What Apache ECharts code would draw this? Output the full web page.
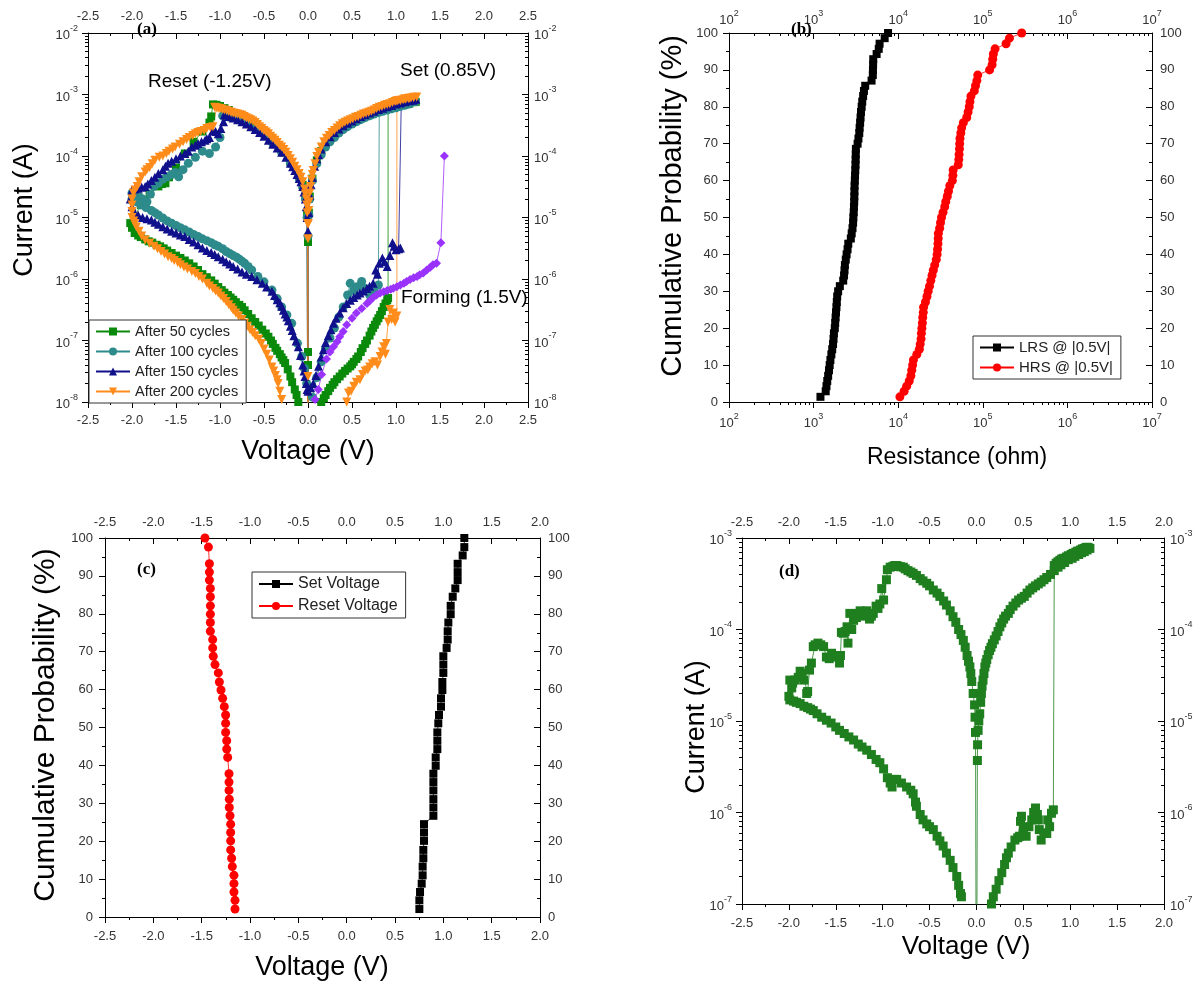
<!DOCTYPE html>
<html><head><meta charset="utf-8">
<script src="https://cdn.jsdelivr.net/npm/echarts@6/dist/echarts.min.js"></script>
<style>html,body{margin:0;padding:0;background:#fff}#c{width:1200px;height:984px}</style>
</head><body><div id="c"></div>
<script>
// ---------- Panel (a): I-V curves, [Voltage (V), Current (A)] ----------
const cyc50 = [
[0.0,6.5e-8],[0.0,4.0e-8],[0.0,1e-10],
[0.15,1.0e-8],[0.18,1.15e-8],[0.2,1.3e-8],[0.23,1.5e-8],[0.25,1.7e-8],[0.28,1.9e-8],[0.3,2.1e-8],[0.33,2.35e-8],[0.36,2.6e-8],[0.39,2.9e-8],[0.42,3.2e-8],[0.45,3.5e-8],[0.48,3.8e-8],[0.5,4.1e-8],[0.52,4.5e-8],[0.55,5.0e-8],[0.57,5.5e-8],[0.6,6.5e-8],[0.62,7.5e-8],[0.65,8.8e-8],[0.67,1.0e-7],[0.7,1.2e-7],[0.72,1.4e-7],[0.74,1.6e-7],[0.76,1.8e-7],[0.78,2.05e-7],[0.8,2.3e-7],[0.82,2.6e-7],[0.84,3.0e-7],[0.86,3.5e-7],[0.88,4.0e-7],[0.9,4.5e-7],[0.91,4.9e-7],
[0.91,6.2e-4],[0.95,6.4e-4],[1.0,6.6e-4],[1.05,6.9e-4],[1.1,7.1e-4],[1.15,7.3e-4],[1.2,7.5e-4],[1.225,7.6e-4],
[1.15,7.1e-4],[1.1,6.9e-4],[1.0,6.3e-4],[0.9,5.8e-4],[0.8,5.3e-4],[0.7,4.7e-4],[0.6,4.1e-4],[0.5,3.5e-4],[0.4,2.9e-4],[0.3,2.2e-4],[0.2,1.6e-4],[0.15,1.2e-4],[0.1,8.5e-5],[0.05,4.3e-5],[0.02,2.2e-5],[0.01,1.2e-5],[0.0,4.0e-6],[0.0,1e-10],
[-0.01,1.1e-5],[-0.03,2.2e-5],[-0.06,3.4e-5],[-0.1,4.6e-5],[-0.2,8.0e-5],[-0.3,1.25e-4],[-0.4,1.75e-4],[-0.5,2.4e-4],[-0.6,3.1e-4],[-0.7,3.9e-4],[-0.8,4.7e-4],[-0.9,5.6e-4],[-0.95,6.0e-4],[-1.0,6.5e-4],[-1.04,6.8e-4],[-1.08,6.9e-4],
[-1.1,4.4e-4],[-1.12,3.5e-4],[-1.2,2.5e-4],[-1.3,1.7e-4],[-1.4,1.1e-4],[-1.5,6.5e-5],[-1.58,4.5e-5],[-1.62,3.6e-5],[-1.64,3.8e-5],[-1.66,3.5e-5],[-1.7,3.2e-5],[-1.8,2.4e-5],[-1.9,1.6e-5],[-1.98,1.0e-5],
[-2.02,8.1e-6],[-2.0,6.8e-6],[-1.97,5.6e-6],[-1.93,5.1e-6],[-1.9,4.8e-6],[-1.85,4.4e-6],[-1.81,4.1e-6],[-1.77,3.9e-6],[-1.72,3.6e-6],[-1.68,3.4e-6],[-1.64,3.15e-6],[-1.6,2.9e-6],[-1.55,2.65e-6],[-1.5,2.4e-6],[-1.45,2.2e-6],[-1.4,2.0e-6],[-1.35,1.8e-6],[-1.3,1.6e-6],[-1.25,1.4e-6],[-1.2,1.2e-6],[-1.15,1.07e-6],[-1.1,9.5e-7],[-1.06,8.4e-7],[-1.02,7.4e-7],[-0.98,6.6e-7],[-0.95,6.0e-7],[-0.91,5.5e-7],[-0.88,5.0e-7],[-0.85,4.6e-7],[-0.82,4.2e-7],[-0.78,3.8e-7],[-0.75,3.5e-7],[-0.72,3.1e-7],[-0.68,2.7e-7],[-0.64,2.3e-7],[-0.6,2.0e-7],[-0.56,1.75e-7],[-0.52,1.5e-7],[-0.48,1.3e-7],[-0.45,1.15e-7],[-0.42,1.0e-7],[-0.4,8.8e-8],[-0.37,7.6e-8],[-0.35,6.8e-8],[-0.32,6.0e-8],[-0.3,5.3e-8],[-0.28,4.8e-8],[-0.26,4.3e-8],[-0.23,3.4e-8],[-0.2,2.6e-8],[-0.18,2.1e-8],[-0.15,1.6e-8],[-0.13,1.3e-8],[-0.11,1.0e-8],[-0.08,7e-9]
];
const cyc100 = [
[0.05,1.2e-8],[0.1,2.5e-8],[0.15,4.5e-8],[0.2,7.5e-8],[0.25,1.1e-7],[0.3,1.6e-7],[0.35,2.4e-7],[0.4,3.5e-7],[0.45,5.5e-7],[0.48,8.5e-7],[0.52,6.5e-7],[0.56,7.5e-7],[0.61,9.1e-7],[0.65,7.0e-7],[0.7,5.5e-7],[0.75,6.5e-7],[0.8,8.0e-7],
[0.81,5.5e-4],[0.85,5.7e-4],[0.9,6.0e-4],[0.95,6.2e-4],[1.0,6.5e-4],[1.05,6.8e-4],[1.1,7.0e-4],[1.15,7.3e-4],[1.2,7.6e-4],[1.22,7.7e-4],
[1.15,7.0e-4],[1.1,6.7e-4],[1.05,6.4e-4],[1.0,6.1e-4],[0.95,5.85e-4],[0.9,5.6e-4],[0.85,5.35e-4],[0.8,5.1e-4],[0.75,4.8e-4],[0.7,4.5e-4],[0.65,4.2e-4],[0.6,3.9e-4],[0.55,3.6e-4],[0.5,3.3e-4],[0.45,3.0e-4],[0.4,2.7e-4],[0.35,2.35e-4],[0.3,2.0e-4],[0.25,1.7e-4],[0.2,1.4e-4],[0.15,1.05e-4],[0.1,7.5e-5],[0.05,4.0e-5],[0.02,2.0e-5],[0.01,1.1e-5],[0.0,5.0e-6],[0.0,1e-10],
[-0.01,1.0e-5],[-0.03,2.0e-5],[-0.06,3.1e-5],[-0.1,4.3e-5],[-0.2,7.6e-5],[-0.3,1.15e-4],[-0.4,1.6e-4],[-0.5,2.2e-4],[-0.6,2.8e-4],[-0.7,3.4e-4],[-0.8,3.9e-4],[-0.9,4.3e-4],[-0.97,4.5e-4],
[-1.0,2.0e-4],[-1.05,1.4e-4],[-1.12,1.1e-4],[-1.2,1.2e-4],[-1.28,9.5e-5],[-1.36,7.6e-5],[-1.42,6.0e-5],[-1.47,4.6e-5],[-1.51,5.4e-5],[-1.55,5.0e-5],[-1.6,4.6e-5],[-1.65,4.2e-5],[-1.7,3.6e-5],[-1.75,3.2e-5],[-1.79,2.4e-5],[-1.83,1.8e-5],[-1.88,2.0e-5],[-1.92,2.2e-5],[-1.96,2.4e-5],[-2.0,2.5e-5],
[-2.0,2.0e-5],[-1.95,1.8e-5],[-1.9,1.6e-5],[-1.84,1.45e-5],[-1.78,1.3e-5],[-1.74,1.2e-5],[-1.7,1.1e-5],[-1.65,9.8e-6],[-1.6,8.8e-6],[-1.55,8.1e-6],[-1.5,7.4e-6],[-1.45,6.8e-6],[-1.4,6.3e-6],[-1.35,5.8e-6],[-1.3,5.3e-6],[-1.25,4.9e-6],[-1.2,4.5e-6],[-1.15,4.2e-6],[-1.1,3.9e-6],[-1.06,3.6e-6],[-1.02,3.4e-6],[-0.97,3.1e-6],[-0.93,2.8e-6],[-0.89,2.6e-6],[-0.85,2.4e-6],[-0.81,2.25e-6],[-0.78,2.1e-6],[-0.75,1.95e-6],[-0.72,1.8e-6],[-0.68,1.6e-6],[-0.64,1.4e-6],[-0.57,1.1e-6],[-0.5,9.0e-7],[-0.41,6.6e-7],[-0.35,4.8e-7],[-0.3,3.5e-7],[-0.24,2.6e-7],[-0.185,1.9e-7],[-0.12,9.0e-8],[-0.07,5.5e-8],[-0.04,3.5e-8],[-0.015,2.0e-8]
];
const cyc150 = [
[0.0,1.5e-8],[0.03,1.7e-8],[0.06,2.0e-8],[0.09,2.7e-8],[0.12,3.8e-8],[0.15,5.4e-8],[0.175,7.1e-8],[0.2,9.3e-8],[0.23,1.2e-7],[0.26,1.5e-7],[0.29,1.9e-7],[0.32,2.3e-7],[0.36,2.8e-7],[0.4,3.4e-7],[0.44,4.0e-7],[0.48,4.5e-7],[0.52,5.0e-7],[0.56,5.5e-7],[0.59,5.9e-7],[0.63,6.4e-7],[0.67,7.0e-7],[0.7,7.6e-7],[0.74,8.5e-7],[0.77,1.4e-6],[0.79,1.2e-6],[0.81,1.8e-6],[0.845,2.2e-6],[0.87,1.9e-6],[0.9,1.6e-6],[0.93,2.4e-6],[0.96,3.9e-6],[0.98,3.4e-6],[1.0,3.0e-6],[1.03,3.1e-6],[1.05,3.2e-6],
[1.06,7.6e-4],[1.1,7.8e-4],[1.15,8.0e-4],[1.2,8.3e-4],[1.225,8.4e-4],
[1.19,8.1e-4],[1.15,7.9e-4],[1.1,7.6e-4],[1.05,7.3e-4],[1.0,7.0e-4],[0.95,6.65e-4],[0.9,6.3e-4],[0.85,6.0e-4],[0.8,5.7e-4],[0.75,5.35e-4],[0.7,5.0e-4],[0.65,4.7e-4],[0.6,4.4e-4],[0.55,4.05e-4],[0.5,3.7e-4],[0.45,3.4e-4],[0.4,3.1e-4],[0.35,2.75e-4],[0.3,2.4e-4],[0.25,2.05e-4],[0.2,1.7e-4],[0.15,1.3e-4],[0.12,1.05e-4],[0.1,9.0e-5],[0.075,6.8e-5],[0.05,4.5e-5],[0.035,3.4e-5],[0.02,2.3e-5],[0.01,1.2e-5],[0.0,6.0e-6],[0.0,1e-10],
[-0.01,1.0e-5],[-0.02,1.5e-5],[-0.03,2.0e-5],[-0.045,2.6e-5],[-0.06,3.2e-5],[-0.08,3.8e-5],[-0.1,4.3e-5],[-0.125,5.0e-5],[-0.15,5.8e-5],[-0.175,6.7e-5],[-0.2,7.6e-5],[-0.25,9.5e-5],[-0.3,1.15e-4],[-0.35,1.35e-4],[-0.4,1.55e-4],[-0.45,1.8e-4],[-0.5,2.1e-4],[-0.55,2.4e-4],[-0.6,2.7e-4],[-0.65,3.0e-4],[-0.7,3.3e-4],[-0.75,3.6e-4],[-0.8,3.9e-4],[-0.85,4.15e-4],[-0.9,4.4e-4],[-0.95,4.7e-4],
[-0.96,3.6e-4],[-0.99,2.8e-4],[-1.02,2.3e-4],[-1.05,2.5e-4],[-1.08,2.6e-4],[-1.12,2.0e-4],[-1.15,1.9e-4],[-1.17,1.8e-4],[-1.21,1.7e-4],[-1.25,1.6e-4],[-1.28,1.5e-4],[-1.32,1.4e-4],[-1.36,1.2e-4],[-1.4,1.1e-4],[-1.45,1.0e-4],[-1.5,9.0e-5],[-1.55,8.2e-5],[-1.59,7.6e-5],[-1.62,6.8e-5],[-1.65,6.0e-5],[-1.7,5.2e-5],[-1.74,4.5e-5],[-1.78,4.0e-5],[-1.82,3.5e-5],[-1.85,3.2e-5],[-1.89,3.1e-5],[-1.93,3.0e-5],[-1.97,2.9e-5],[-2.0,2.8e-5],[-2.02,2.0e-5],
[-2.0,1.5e-5],[-1.97,1.2e-5],[-1.93,1.1e-5],[-1.88,1.0e-5],[-1.83,9.5e-6],[-1.78,9.1e-6],[-1.74,8.4e-6],[-1.7,7.8e-6],[-1.65,7.1e-6],[-1.6,6.5e-6],[-1.55,6.0e-6],[-1.5,5.6e-6],[-1.45,5.2e-6],[-1.4,4.9e-6],[-1.35,4.4e-6],[-1.3,4.0e-6],[-1.25,3.6e-6],[-1.2,3.2e-6],[-1.15,2.9e-6],[-1.1,2.7e-6],[-1.06,2.5e-6],[-1.02,2.3e-6],[-0.97,2.1e-6],[-0.93,1.9e-6],[-0.89,1.75e-6],[-0.85,1.6e-6],[-0.8,1.45e-6],[-0.75,1.3e-6],[-0.7,1.2e-6],[-0.64,1.1e-6],[-0.58,9.7e-7],[-0.52,8.5e-7],[-0.47,7.4e-7],[-0.41,6.3e-7],[-0.38,5.4e-7],[-0.35,4.6e-7],[-0.32,4.1e-7],[-0.3,3.6e-7],[-0.28,3.1e-7],[-0.26,2.7e-7],[-0.24,2.4e-7],[-0.224,2.1e-7],[-0.2,1.7e-7],[-0.18,1.45e-7],[-0.16,1.2e-7],[-0.135,9.8e-8],[-0.11,7.9e-8],[-0.085,5.7e-8],[-0.06,4.0e-8],[-0.045,3.2e-8],[-0.034,2.6e-8],[-0.02,2.0e-8],[-0.01,1.6e-8]
];
const cyc200 = [
[0.0,2.6e-8],[0.0,1e-10],
[0.44,1.0e-8],[0.46,1.4e-8],[0.49,1.5e-8],[0.52,1.8e-8],[0.55,2.1e-8],[0.59,2.3e-8],[0.62,2.8e-8],[0.65,3.2e-8],[0.68,3.3e-8],[0.7,3.7e-8],[0.73,4.2e-8],[0.76,4.5e-8],[0.79,4.0e-8],[0.82,5.5e-8],[0.84,6.5e-8],[0.86,7.9e-8],[0.88,6.0e-8],[0.89,8.9e-8],[0.91,2.0e-7],[0.93,3.2e-7],[0.95,2.2e-7],[0.97,2.8e-7],[0.99,2.0e-7],[1.01,2.5e-7],
[1.01,7.9e-4],[1.05,8.1e-4],[1.1,8.5e-4],[1.15,8.7e-4],[1.2,9.0e-4],
[1.235,9.1e-4],[1.2,8.9e-4],[1.17,8.75e-4],[1.14,8.6e-4],[1.11,8.4e-4],[1.08,8.2e-4],[1.05,8.0e-4],[1.02,7.9e-4],[0.99,7.7e-4],[0.96,7.4e-4],[0.93,7.1e-4],[0.9,6.9e-4],[0.87,6.7e-4],[0.84,6.4e-4],[0.81,6.2e-4],[0.78,5.9e-4],[0.75,5.6e-4],[0.72,5.35e-4],[0.69,5.15e-4],[0.66,4.95e-4],[0.63,4.8e-4],[0.6,4.6e-4],[0.57,4.4e-4],[0.54,4.25e-4],[0.51,4.05e-4],[0.48,3.9e-4],[0.45,3.7e-4],[0.42,3.55e-4],[0.39,3.35e-4],[0.36,3.1e-4],[0.33,2.85e-4],[0.3,2.6e-4],[0.27,2.4e-4],[0.24,2.15e-4],[0.21,1.95e-4],[0.18,1.7e-4],[0.15,1.4e-4],[0.12,1.15e-4],[0.1,9.8e-5],[0.08,7.5e-5],[0.06,5.8e-5],[0.05,5.0e-5],[0.04,4.1e-5],[0.03,3.2e-5],[0.02,2.5e-5],[0.015,1.8e-5],[0.01,1.3e-5],[0.005,8.0e-6],[0.0,4.5e-6],[0.0,1e-10],
[-0.005,8.0e-6],[-0.01,1.2e-5],[-0.015,1.6e-5],[-0.02,2.0e-5],[-0.03,2.4e-5],[-0.04,2.9e-5],[-0.06,3.8e-5],[-0.08,4.5e-5],[-0.1,5.2e-5],[-0.125,6.0e-5],[-0.15,6.8e-5],[-0.175,7.9e-5],[-0.2,9.0e-5],[-0.225,1.02e-4],[-0.25,1.15e-4],[-0.275,1.28e-4],[-0.3,1.4e-4],[-0.325,1.5e-4],[-0.35,1.65e-4],[-0.375,1.8e-4],[-0.4,1.95e-4],[-0.425,2.1e-4],[-0.45,2.3e-4],[-0.475,2.45e-4],[-0.5,2.6e-4],[-0.525,2.8e-4],[-0.55,3.0e-4],[-0.575,3.25e-4],[-0.6,3.5e-4],[-0.625,3.7e-4],[-0.65,3.9e-4],[-0.675,4.05e-4],[-0.7,4.2e-4],[-0.725,4.4e-4],[-0.75,4.6e-4],[-0.775,4.7e-4],[-0.8,4.8e-4],[-0.825,4.9e-4],[-0.85,5.0e-4],[-0.875,5.15e-4],[-0.9,5.3e-4],[-0.925,5.5e-4],[-0.95,5.6e-4],[-0.975,5.75e-4],[-1.0,5.9e-4],[-1.02,6.0e-4],[-1.04,6.1e-4],[-1.06,6.2e-4],
[-1.08,3.0e-4],[-1.11,2.9e-4],[-1.15,2.8e-4],[-1.18,2.6e-4],[-1.22,2.5e-4],[-1.25,2.4e-4],[-1.28,2.3e-4],[-1.31,2.15e-4],[-1.35,2.0e-4],[-1.38,1.85e-4],[-1.42,1.7e-4],[-1.46,1.55e-4],[-1.51,1.4e-4],[-1.54,1.3e-4],[-1.58,1.2e-4],[-1.61,1.1e-4],[-1.65,1.0e-4],[-1.69,9.5e-5],[-1.74,8.5e-5],[-1.77,7.5e-5],[-1.8,6.5e-5],[-1.83,6.0e-5],[-1.85,5.5e-5],[-1.89,4.6e-5],[-1.92,3.8e-5],[-1.94,3.2e-5],[-1.965,2.8e-5],[-1.985,2.5e-5],[-2.0,2.0e-5],[-2.0,1.6e-5],
[-2.0,1.25e-5],[-2.0,1.0e-5],[-1.98,8.8e-6],[-1.97,8.0e-6],[-1.95,7.0e-6],[-1.92,6.0e-6],[-1.89,5.0e-6],[-1.85,4.3e-6],[-1.8,3.8e-6],[-1.75,3.4e-6],[-1.71,3.1e-6],[-1.67,2.8e-6],[-1.63,2.55e-6],[-1.59,2.3e-6],[-1.55,2.15e-6],[-1.52,2.0e-6],[-1.48,1.85e-6],[-1.45,1.7e-6],[-1.41,1.57e-6],[-1.37,1.45e-6],[-1.32,1.33e-6],[-1.28,1.23e-6],[-1.24,1.1e-6],[-1.2,1.0e-6],[-1.15,8.5e-7],[-1.12,7.7e-7],[-1.08,7.0e-7],[-1.05,6.4e-7],[-1.02,5.9e-7],[-0.99,5.3e-7],[-0.96,4.8e-7],[-0.93,4.3e-7],[-0.9,3.8e-7],[-0.87,3.4e-7],[-0.85,3.1e-7],[-0.82,2.8e-7],[-0.79,2.5e-7],[-0.75,2.2e-7],[-0.72,1.9e-7],[-0.69,1.7e-7],[-0.66,1.5e-7],[-0.63,1.35e-7],[-0.6,1.2e-7],[-0.56,1.05e-7],[-0.53,8.9e-8],[-0.5,7.3e-8],[-0.47,6.0e-8],[-0.44,4.8e-8],[-0.41,3.7e-8],[-0.39,3.2e-8],[-0.37,2.7e-8],[-0.35,2.3e-8],[-0.34,2.0e-8],[-0.32,1.5e-8],[-0.3,1.1e-8],[-0.28,8.0e-9]
];
const forming = [
[0.08,1.1e-8],[0.117,1.6e-8],[0.155,2.8e-8],[0.21,5.0e-8],[0.25,6.5e-8],[0.29,7.9e-8],[0.33,9.5e-8],[0.36,1.15e-7],[0.4,1.4e-7],[0.44,1.8e-7],[0.5,2.3e-7],[0.55,2.8e-7],[0.61,3.3e-7],[0.67,4.0e-7],[0.7,4.4e-7],[0.74,5.0e-7],[0.78,5.5e-7],[0.82,5.9e-7],[0.86,6.2e-7],[0.9,6.5e-7],[0.94,6.8e-7],[0.97,7.1e-7],[1.01,7.5e-7],[1.05,8.0e-7],[1.09,8.5e-7],[1.12,9.1e-7],[1.16,9.8e-7],[1.2,1.05e-6],[1.24,1.1e-6],[1.27,1.17e-6],[1.31,1.25e-6],[1.35,1.4e-6],[1.39,1.55e-6],[1.42,1.7e-6],[1.46,1.8e-6],[1.51,3.9e-6],[1.55,1.0e-4]
];

// ---------- Panel (b): [Resistance (ohm), Cumulative Probability (%)] ----------
const lrs = [
[1205,1.4],[1390,2.9],[1420,4.3],[1450,5.7],[1486,7.1],[1520,8.6],[1549,10.0],[1580,11.4],[1622,12.9],[1660,14.3],[1698,15.7],[1720,17.1],[1738,18.6],[1780,20.0],[1800,21.4],[1820,22.9],[1840,24.3],[1862,25.7],[1880,27.1],[1900,28.6],[1950,30.0],[2042,31.4],[2239,32.9],[2291,34.3],[2320,35.7],[2344,37.1],[2400,38.6],[2455,40.0],[2520,41.4],[2570,42.9],[2754,44.3],[2820,45.7],[2884,47.1],[2930,48.6],[2951,50.0],[2980,51.4],[3000,52.9],[3020,54.3],[3030,55.7],[3040,57.1],[3050,58.6],[3070,60.0],[3090,61.4],[3110,62.9],[3130,64.3],[3140,65.7],[3150,67.1],[3162,68.6],[3311,70.0],[3390,71.4],[3467,72.9],[3500,74.3],[3548,75.7],[3590,77.1],[3631,78.6],[3700,80.0],[3758,81.4],[3850,82.9],[3936,84.3],[4074,85.7],[4842,87.1],[5012,88.6],[5030,90.0],[5050,91.4],[5070,92.9],[5559,94.3],[5888,95.7],[6026,97.1],[6918,98.6],[7586,100]
];
const hrs = [
[10471,1.4],[11749,2.9],[12589,4.3],[13500,5.7],[14125,7.1],[14454,8.6],[14800,10.0],[15136,11.4],[16596,12.9],[17783,14.3],[18200,15.7],[18621,17.1],[18800,18.6],[19055,20.0],[19300,21.4],[19498,22.9],[19800,24.3],[19953,25.7],[21000,27.1],[21878,28.6],[22600,30.0],[23442,31.4],[24300,32.9],[25119,34.3],[26002,35.7],[27000,37.1],[28184,38.6],[28840,40.0],[29200,41.4],[29512,42.9],[29700,44.3],[29854,45.7],[30903,47.1],[31623,48.6],[32500,50.0],[33884,51.4],[35481,52.9],[36500,54.3],[38019,55.7],[39300,57.1],[40738,58.6],[43652,60.0],[44300,61.4],[44668,62.9],[51286,64.3],[52000,65.7],[52481,67.1],[53000,68.6],[53300,70.0],[53703,71.4],[55000,72.9],[56234,74.3],[58884,75.7],[64565,77.1],[67000,78.6],[69183,80.0],[70500,81.4],[72444,82.9],[79433,84.3],[82000,85.7],[85114,87.1],[87096,88.6],[120226,90.0],[128825,91.4],[131000,92.9],[133352,94.3],[139637,95.7],[188365,97.1],[206538,98.6],[288403,100]
];

// ---------- Panel (c): [Voltage (V), Cumulative Probability (%)] ----------
const setV = [
[0.752,2.1],[0.752,4.4],[0.759,6.6],[0.776,8.8],[0.786,11.0],[0.786,13.3],[0.793,15.5],[0.793,17.7],[0.80,20.1],[0.80,22.3],[0.80,24.5],[0.897,26.7],[0.897,28.9],[0.897,31.1],[0.897,33.4],[0.897,35.6],[0.897,37.8],[0.921,39.9],[0.921,42.1],[0.938,44.3],[0.938,46.5],[0.938,48.7],[0.948,51.1],[0.955,53.3],[0.976,55.5],[0.976,57.7],[0.99,59.9],[0.99,62.0],[1.0,64.4],[1.0,66.6],[1.0,68.8],[1.034,71.0],[1.045,73.2],[1.045,75.4],[1.052,77.7],[1.076,79.9],[1.076,82.1],[1.097,84.5],[1.124,86.7],[1.148,88.9],[1.148,91.0],[1.148,93.2],[1.20,95.4],[1.217,97.6],[1.217,100]
];
const resetV = [
[-1.155,2.1],[-1.155,4.4],[-1.166,6.6],[-1.166,8.8],[-1.166,11.0],[-1.183,13.3],[-1.19,15.5],[-1.20,17.7],[-1.20,20.1],[-1.20,22.3],[-1.20,24.5],[-1.207,26.7],[-1.214,28.9],[-1.214,31.1],[-1.217,33.4],[-1.217,35.6],[-1.217,37.8],[-1.231,42.1],[-1.241,44.3],[-1.241,46.5],[-1.252,48.7],[-1.252,51.1],[-1.252,53.3],[-1.266,55.5],[-1.283,57.7],[-1.30,59.9],[-1.317,62.0],[-1.328,64.4],[-1.362,66.6],[-1.38,68.8],[-1.386,71.0],[-1.386,73.2],[-1.41,75.4],[-1.41,77.7],[-1.41,79.9],[-1.41,82.1],[-1.41,84.5],[-1.41,86.7],[-1.42,88.9],[-1.42,91.0],[-1.42,93.2],[-1.43,97.6],[-1.466,100]
];

// ---------- Panel (d): single I-V cycle [Voltage (V), Current (A)] ----------
const cycD = [
[0.16,1.0e-7],[0.18,1.2e-7],[0.21,1.45e-7],[0.24,1.8e-7],[0.27,2.2e-7],[0.3,2.7e-7],[0.32,3.2e-7],[0.34,3.6e-7],[0.37,4.2e-7],[0.41,5.0e-7],[0.44,5.3e-7],[0.46,5.5e-7],[0.47,8.0e-7],[0.48,9.1e-7],[0.5,6.5e-7],[0.53,5.5e-7],[0.56,7.0e-7],[0.59,8.3e-7],[0.61,1.0e-6],[0.63,1.12e-6],[0.65,9.5e-7],[0.66,8.3e-7],[0.67,6.5e-7],[0.69,5.0e-7],[0.72,6.0e-7],[0.75,5.9e-7],[0.76,8.3e-7],[0.78,7.0e-7],[0.8,9.8e-7],[0.82,1.07e-6],
[0.83,5.0e-4],[0.85,5.3e-4],[0.87,5.5e-4],[0.89,5.7e-4],[0.91,5.9e-4],[0.93,6.0e-4],[0.96,6.2e-4],[0.98,6.4e-4],[1.01,6.6e-4],[1.03,6.8e-4],[1.06,7.0e-4],[1.08,7.2e-4],[1.11,7.4e-4],[1.13,7.6e-4],[1.15,7.7e-4],[1.17,7.9e-4],[1.19,7.9e-4],[1.21,7.7e-4],
[1.18,7.4e-4],[1.15,7.1e-4],[1.12,6.9e-4],[1.09,6.6e-4],[1.05,6.3e-4],[1.02,6.0e-4],[0.98,5.8e-4],[0.94,5.4e-4],[0.9,5.1e-4],[0.87,4.8e-4],[0.83,4.4e-4],[0.79,4.0e-4],[0.75,3.7e-4],[0.72,3.5e-4],[0.69,3.3e-4],[0.66,3.15e-4],[0.63,3.0e-4],[0.6,2.85e-4],[0.57,2.7e-4],[0.54,2.5e-4],[0.51,2.3e-4],[0.48,2.2e-4],[0.45,2.1e-4],[0.42,1.95e-4],[0.39,1.8e-4],[0.36,1.65e-4],[0.34,1.5e-4],[0.31,1.4e-4],[0.29,1.3e-4],[0.27,1.18e-4],[0.25,1.07e-4],[0.23,9.5e-5],[0.21,8.5e-5],[0.19,7.7e-5],[0.17,7.0e-5],[0.155,6.4e-5],[0.14,5.9e-5],[0.125,5.3e-5],[0.11,4.7e-5],[0.1,4.3e-5],[0.09,3.9e-5],[0.08,3.3e-5],[0.07,2.8e-5],[0.06,2.4e-5],[0.053,2.0e-5],[0.045,1.6e-5],[0.035,1.2e-5],[0.025,1.0e-5],[0.018,7.9e-6],[0.012,5.5e-6],[0.01,3.7e-6],[0.0,1e-9],
[-0.01,7.5e-6],[-0.015,1.1e-5],[-0.02,1.5e-5],[-0.035,2.0e-5],[-0.05,2.7e-5],[-0.06,3.3e-5],[-0.07,3.9e-5],[-0.085,4.5e-5],[-0.1,5.2e-5],[-0.12,6.4e-5],[-0.14,7.6e-5],[-0.165,8.8e-5],[-0.19,1.0e-4],[-0.22,1.2e-4],[-0.25,1.38e-4],[-0.28,1.6e-4],[-0.32,1.85e-4],[-0.35,2.05e-4],[-0.39,2.3e-4],[-0.42,2.5e-4],[-0.46,2.7e-4],[-0.5,3.0e-4],[-0.53,3.2e-4],[-0.57,3.4e-4],[-0.6,3.6e-4],[-0.64,3.9e-4],[-0.675,4.1e-4],[-0.7,4.25e-4],[-0.73,4.4e-4],[-0.76,4.6e-4],[-0.78,4.8e-4],[-0.81,4.85e-4],[-0.83,4.9e-4],[-0.85,5.0e-4],[-0.87,5.0e-4],[-0.89,4.9e-4],[-0.92,4.8e-4],[-0.95,4.5e-4],
[-0.96,3.5e-4],[-0.99,2.1e-4],[-1.01,2.8e-4],[-1.03,1.9e-4],[-1.05,1.7e-4],[-1.07,1.8e-4],[-1.1,1.5e-4],[-1.12,1.4e-4],[-1.14,1.3e-4],[-1.17,1.6e-4],[-1.19,1.5e-4],[-1.21,1.4e-4],[-1.24,1.6e-4],[-1.26,1.5e-4],[-1.28,1.35e-4],[-1.31,1.26e-4],[-1.33,1.0e-4],[-1.35,1.5e-4],[-1.37,7.1e-5],[-1.38,1.07e-4],[-1.4,9.5e-5],[-1.42,9.1e-5],[-1.44,9.3e-5],[-1.45,5.2e-5],[-1.46,4.3e-5],[-1.49,5.0e-5],[-1.52,5.2e-5],[-1.545,5.5e-5],[-1.57,4.8e-5],[-1.6,5.0e-5],[-1.63,6.5e-5],[-1.66,6.8e-5],[-1.69,7.1e-5],[-1.72,6.8e-5],[-1.74,6.5e-5],[-1.76,4.3e-5],[-1.78,3.6e-5],[-1.8,2.1e-5],[-1.81,2.0e-5],[-1.84,2.8e-5],[-1.86,3.3e-5],[-1.88,3.5e-5],[-1.9,3.0e-5],[-1.935,2.8e-5],[-1.96,2.6e-5],[-1.97,2.3e-5],[-1.99,2.8e-5],[-2.0,1.86e-5],
[-1.99,1.7e-5],[-1.95,1.65e-5],[-1.92,1.6e-5],[-1.88,1.55e-5],[-1.84,1.45e-5],[-1.8,1.4e-5],[-1.77,1.35e-5],[-1.74,1.3e-5],[-1.7,1.2e-5],[-1.65,1.1e-5],[-1.6,1.02e-5],[-1.55,9.5e-6],[-1.5,8.6e-6],[-1.46,7.9e-6],[-1.41,7.3e-6],[-1.36,6.7e-6],[-1.31,6.2e-6],[-1.26,5.6e-6],[-1.22,5.2e-6],[-1.17,4.8e-6],[-1.12,4.3e-6],[-1.07,3.8e-6],[-1.03,3.5e-6],[-0.99,3.0e-6],[-0.95,2.4e-6],[-0.92,2.1e-6],[-0.9,1.9e-6],[-0.88,2.3e-6],[-0.85,2.3e-6],[-0.8,2.1e-6],[-0.745,1.9e-6],[-0.7,1.75e-6],[-0.675,1.6e-6],[-0.65,1.3e-6],[-0.64,1.17e-6],[-0.6,9.5e-7],[-0.57,8.3e-7],[-0.53,7.5e-7],[-0.5,7.0e-7],[-0.46,6.5e-7],[-0.42,5.5e-7],[-0.39,4.9e-7],[-0.355,4.3e-7],[-0.32,3.6e-7],[-0.28,3.0e-7],[-0.25,2.5e-7],[-0.21,2.0e-7],[-0.19,1.6e-7],[-0.17,1.3e-7],[-0.16,1.2e-7]
];

// ---------- tick label definitions ----------
const aCurrentTicks = [1e-8,1e-7,1e-6,1e-5,1e-4,1e-3,1e-2];
const dCurrentTicks = [1e-7,1e-6,1e-5,1e-4,1e-3];
const bResTicks = [1e2,1e3,1e4,1e5,1e6,1e7];

const FONT = '"Liberation Sans", Arial, Helvetica, sans-serif';
const SERIF = '"Liberation Serif", "Times New Roman", serif';

function minorLog(majors){
  const out=[];
  for(let i=0;i<majors.length-1;i++){ for(let m=2;m<=9;m++){ out.push(m*majors[i]); } }
  return out;
}
const supRich = {
  b:{fontSize:13, color:'#333', fontFamily:FONT, lineHeight:18, verticalAlign:'bottom'},
  s:{fontSize:9, color:'#333', fontFamily:FONT, lineHeight:18, verticalAlign:'top'}
};
function supFmt(v){ const e=Math.round(Math.log10(v)); return '{b|10}{s|'+e+'}'; }

function valAxis(grid,pos,min,max,interval,digits,margin){
  const inside = (pos==='top'||pos==='right');
  return {type:'value', gridIndex:grid, position:pos, min, max, interval,
    axisLine:{show:true,onZero:false,lineStyle:{color:'#000',width:1}},
    axisTick:{show:true,inside,length:6,lineStyle:{color:'#000',width:1}},
    minorTick:{show:true,splitNumber:2,length:3,lineStyle:{color:'#000',width:1}},
    splitLine:{show:false}, minorSplitLine:{show:false},
    axisLabel:{show:true,margin:margin,color:'#333',fontSize:13,fontFamily:FONT,showMinLabel:true,showMaxLabel:true,
      formatter:v=>v.toFixed(digits)}
  };
}
function logAxis(grid,pos,majors,margin){
  const inside = (pos==='top'||pos==='right');
  return {type:'log', logBase:10, gridIndex:grid, position:pos, min:majors[0], max:majors[majors.length-1],
    axisLine:{show:true,onZero:false,lineStyle:{color:'#000',width:1}},
    axisTick:{show:true,inside,length:6,customValues:majors,lineStyle:{color:'#000',width:1}},
    minorTick:{show:false},
    splitLine:{show:false},
    axisLabel:{show:true,margin:margin,customValues:majors,formatter:supFmt,rich:supRich,color:'#333',fontSize:13,fontFamily:FONT,showMinLabel:true,showMaxLabel:true}
  };
}
function logMinorAxis(grid,pos,majors){
  const inside = (pos==='top'||pos==='right');
  return {type:'log', logBase:10, gridIndex:grid, position:pos, min:majors[0], max:majors[majors.length-1],
    axisLine:{show:false,onZero:false},
    axisTick:{show:true,inside,length:3,customValues:minorLog(majors),lineStyle:{color:'#000',width:1}},
    splitLine:{show:false}, axisLabel:{show:false}
  };
}

const C50='#0a8a0a', C100='#2e8b8b', C150='#10108c', C200='#ff8c1a', CFORM='#9b33ff', CD='#1f7f1f';
const DOWN_TRI='path://M0,0L10,0L5,9Z';

function ser(name,data,xi,yi,color,symbol,size,lw){
  return {type:'line', name, data, xAxisIndex:xi, yAxisIndex:yi, symbol, symbolSize:size,
    showSymbol:true, showAllSymbol:true, clip:true, animation:false, silent:true,
    itemStyle:{color, borderWidth:0}, lineStyle:{color, width:lw||0.8}, emphasis:{disabled:true}};
}

const grids = [
  {left:88, top:33, width:440, height:369},
  {left:729, top:33, width:423, height:369},
  {left:105, top:538, width:435, height:379},
  {left:742, top:538, width:422, height:366}
];

const xAxes = [
  valAxis(0,'bottom',-2.5,2.5,0.5,1,12),     //0
  valAxis(0,'top',-2.5,2.5,0.5,1,10),        //1
  logAxis(1,'bottom',bResTicks,10),          //2
  logAxis(1,'top',bResTicks,6),              //3
  logMinorAxis(1,'bottom',bResTicks),        //4
  logMinorAxis(1,'top',bResTicks),           //5
  valAxis(2,'bottom',-2.5,2.0,0.5,1,13),     //6
  valAxis(2,'top',-2.5,2.0,0.5,1,9),         //7
  valAxis(3,'bottom',-2.5,2.0,0.5,1,13),     //8
  valAxis(3,'top',-2.5,2.0,0.5,1,9)          //9
];
const yAxes = [
  logAxis(0,'left',aCurrentTicks,10),        //0
  logAxis(0,'right',aCurrentTicks,6),        //1
  logMinorAxis(0,'left',aCurrentTicks),      //2
  logMinorAxis(0,'right',aCurrentTicks),     //3
  valAxis(1,'left',0,100,10,0,11),           //4
  valAxis(1,'right',0,100,10,0,8),           //5
  valAxis(2,'left',0,100,10,0,12),           //6
  valAxis(2,'right',0,100,10,0,8),           //7
  logAxis(3,'left',dCurrentTicks,10),        //8
  logAxis(3,'right',dCurrentTicks,6),        //9
  logMinorAxis(3,'left',dCurrentTicks),      //10
  logMinorAxis(3,'right',dCurrentTicks)      //11
];

const series = [
  ser('After 50 cycles',cyc50,0,0,C50,'rect',8),
  ser('After 100 cycles',cyc100,0,0,C100,'circle',9),
  ser('After 150 cycles',cyc150,0,0,C150,'triangle',9),
  ser('After 200 cycles',cyc200,0,0,C200,DOWN_TRI,9),
  ser('Forming',forming,0,0,CFORM,'diamond',9),
  ser('LRS @ |0.5V|',lrs,2,4,'#000','rect',8),
  ser('HRS @ |0.5V|',hrs,2,4,'#ff0000','circle',9),
  ser('Set Voltage',setV,6,6,'#000','rect',8),
  ser('Reset Voltage',resetV,6,6,'#ff0000','circle',9),
  ser('d',cycD,8,8,CD,'rect',9)
];

function legend(names,left,top,fs,gap){
  return {data:names, orient:'vertical', left, top, itemWidth:34, itemHeight:10, itemGap:gap,
    padding:[4,8,4,6], borderColor:'#333', borderWidth:1, backgroundColor:'#fff', borderRadius:0,
    selectedMode:false, textStyle:{fontSize:fs, color:'#222', fontFamily:FONT}};
}

function txt(text,x,y,size,opts){
  opts=opts||{};
  return {type:'text', x, y, rotation:opts.rot||0, z:100,
    style:{text, fontSize:size, fontFamily:opts.family||FONT, fontWeight:opts.weight||'normal', fill:'#000',
      align:opts.align||'center', verticalAlign:'middle'}};
}

const option = {
  backgroundColor:'#fff',
  animation:false,
  grid:grids,
  xAxis:xAxes,
  yAxis:yAxes,
  series,
  legend:[
    legend(['After 50 cycles','After 100 cycles','After 150 cycles','After 200 cycles'],89,320,14.5,5),
    legend(['LRS @ |0.5V|','HRS @ |0.5V|'],973,336,15,5),
    legend(['Set Voltage','Reset Voltage'],252,572,16,6)
  ],
  graphic:[
    txt('Current (A)',25,210,27,{rot:Math.PI/2}),
    txt('Voltage (V)',308,452,27),
    txt('Cumulative Probability (%)',673,206,29,{rot:Math.PI/2}),
    txt('Resistance (ohm)',957,458,23),
    txt('Cumulative Probability (%)',46,725,30,{rot:Math.PI/2}),
    txt('Voltage (V)',322,968,27),
    txt('Current (A)',697,727,27,{rot:Math.PI/2}),
    txt('Voltage (V)',966,947,26),
    txt('Reset (-1.25V)',148,82,19,{align:'left'}),
    txt('Set (0.85V)',400,71,19,{align:'left'}),
    txt('Forming (1.5V)',401,298,19,{align:'left'}),
    txt('(a)',137,30,17,{align:'left',family:SERIF,weight:'bold'}),
    txt('(b)',791,30,17,{align:'left',family:SERIF,weight:'bold'}),
    txt('(c)',137,570,17,{align:'left',family:SERIF,weight:'bold'}),
    txt('(d)',779,572,17,{align:'left',family:SERIF,weight:'bold'})
  ]
};

const chart = echarts.init(document.getElementById('c'), null, {renderer:'canvas'});
chart.setOption(option);
</script>
</body></html>
